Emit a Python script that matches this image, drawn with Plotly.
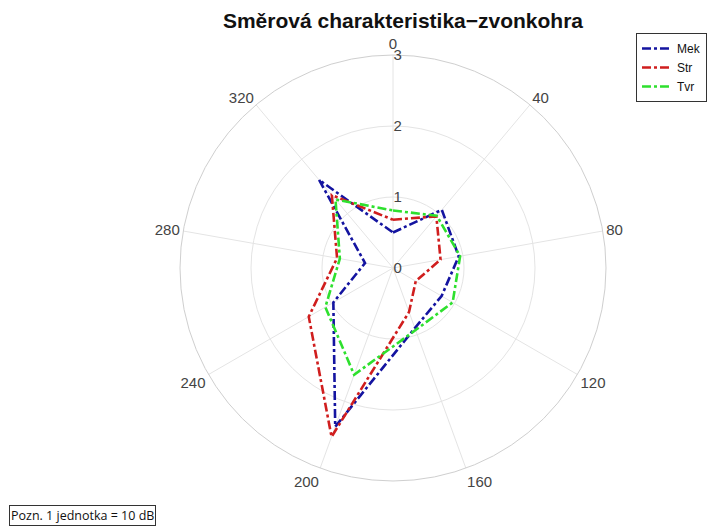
import plotly.graph_objects as go

# Measurement angles (degrees, clockwise from the top)
angles = [0, 40, 80, 120, 160, 200, 240, 280, 320]

# Relative level per direction (1 unit = 10 dB)
mek = [0.50, 1.07, 0.94, 0.79, 0.90, 2.38, 0.97, 0.40, 1.62]
stred = [0.68, 0.95, 0.68, 0.37, 0.66, 2.53, 1.37, 0.80, 1.34]
tvr = [0.81, 0.96, 0.96, 0.97, 0.93, 1.60, 1.10, 0.76, 1.26]

series = [
    ("Mek", mek, "#1414a0"),
    ("Str", stred, "#d01e1e"),
    ("Tvr", tvr, "#2ee02e"),
]

radial_ticks = [0, 1, 2, 3]
angle_ticks = angles

W, H = 712, 526
cx, cy, R = 393, 268, 213

fig = go.Figure()
for name, vals, color in series:
    fig.add_trace(go.Scatterpolar(
        r=vals + vals[:1],
        theta=angles + angles[:1],
        mode="lines",
        name=name,
        line=dict(color=color, width=2.6, dash="dashdot"),
    ))

fig.update_layout(
    width=W, height=H, autosize=False,
    margin=dict(l=0, r=0, t=0, b=0),
    paper_bgcolor="white",
    font=dict(family="Liberation Sans, Arial, sans-serif", color="#444444"),
    title=dict(
        text="<b>Směrová charakteristika−zvonkohra</b>",
        x=(cx + 10) / W, xanchor="center",
        y=1 - 21 / H, yanchor="middle", yref="container",
        font=dict(size=21, color="#111111"),
    ),
    polar=dict(
        domain=dict(x=[(cx - R) / W, (cx + R) / W],
                    y=[(H - cy - R) / H, (H - cy + R) / H]),
        bgcolor="white",
        angularaxis=dict(
            rotation=90, direction="clockwise",
            tickmode="array", tickvals=angle_ticks,
            ticktext=[str(a) for a in angle_ticks],
            showline=True, linecolor="#cfcfcf", linewidth=1,
            gridcolor="#e4e4e4", gridwidth=1,
            ticks="", tickfont=dict(size=15, color="#444444"),
        ),
        radialaxis=dict(
            range=[0, 3], tickmode="array", tickvals=radial_ticks,
            angle=90, tickangle=90, side="clockwise",
            showline=False, gridcolor="#e4e4e4", gridwidth=1,
            ticks="", tickfont=dict(size=15, color="#444444"),
        ),
    ),
    legend=dict(
        x=636 / W, y=1 - 33 / H, xanchor="left", yanchor="top",
        bgcolor="white", bordercolor="#333333", borderwidth=1,
        font=dict(size=12, color="#111111"),
        itemwidth=30, tracegroupgap=0,
    ),
    annotations=[dict(
        text="Pozn. 1 jednotka = 10 dB",
        xref="paper", yref="paper",
        x=9 / W, y=1 - 515 / H, xanchor="left", yanchor="middle",
        showarrow=False, bordercolor="#333333", borderwidth=1,
        borderpad=1, bgcolor="white",
        font=dict(family="Open Sans, sans-serif", size=12.5, color="#111111"),
    )],
)

fig.write_html("out.html")
